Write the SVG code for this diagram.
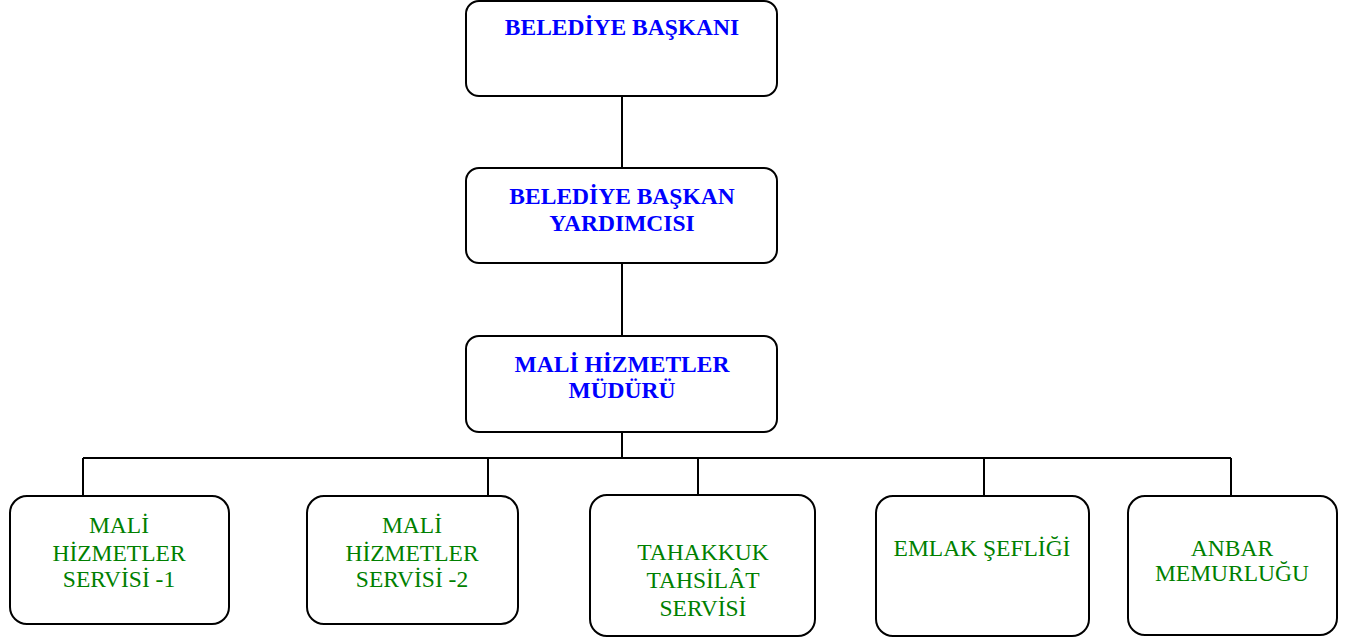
<svg xmlns="http://www.w3.org/2000/svg" width="1360" height="641" viewBox="0 0 1360 641">
<style>
.box{fill:#fff;stroke:#000;stroke-width:2}
.conn{fill:none;stroke:#000;stroke-width:2}
.b{font-family:"Liberation Serif","Times New Roman",serif;font-weight:bold;font-size:23.5px;fill:#0000ff;text-anchor:middle}
.g{font-family:"Liberation Serif","Times New Roman",serif;font-size:23.5px;fill:#008000;text-anchor:middle}
</style>
<rect width="1360" height="641" fill="#fff"/>
<g id="connectors">
<path class="conn" d="M622 96V168M622 263V336M622 432V458M83 458H1231M83 458V496M488 458V496M698 458V495M984 458V496M1231 458V496"/>
</g>
<g id="n1"><rect class="box" x="466" y="1" width="311" height="95" rx="13"/>
<text class="b" x="622" y="35">BELEDİYE BAŞKANI</text></g>
<g id="n2"><rect class="box" x="466" y="168" width="311" height="95" rx="13"/>
<text class="b" x="622" y="204">BELEDİYE BAŞKAN</text><text class="b" x="622" y="231">YARDIMCISI</text></g>
<g id="n3"><rect class="box" x="466" y="336" width="311" height="96" rx="13"/>
<text class="b" x="622" y="372">MALİ HİZMETLER</text><text class="b" x="622" y="398">MÜDÜRÜ</text></g>
<g id="n4"><rect class="box" x="10" y="496" width="219" height="128" rx="17"/>
<text class="g" x="119" y="533">MALİ</text><text class="g" x="119" y="561">HİZMETLER</text><text class="g" x="119" y="587">SERVİSİ -1</text></g>
<g id="n5"><rect class="box" x="307" y="496" width="211" height="128" rx="17"/>
<text class="g" x="412" y="533">MALİ</text><text class="g" x="412" y="561">HİZMETLER</text><text class="g" x="412" y="587">SERVİSİ -2</text></g>
<g id="n6"><rect class="box" x="590" y="495" width="225" height="141" rx="17"/>
<text class="g" x="703" y="560">TAHAKKUK</text><text class="g" x="703" y="588">TAHSİLÂT</text><text class="g" x="703" y="616">SERVİSİ</text></g>
<g id="n7"><rect class="box" x="876" y="496" width="213" height="140" rx="17"/>
<text class="g" x="982" y="556">EMLAK ŞEFLİĞİ</text></g>
<g id="n8"><rect class="box" x="1128" y="496" width="209" height="139" rx="17"/>
<text class="g" x="1232" y="556">ANBAR</text><text class="g" x="1232" y="581">MEMURLUĞU</text></g>
</svg>
